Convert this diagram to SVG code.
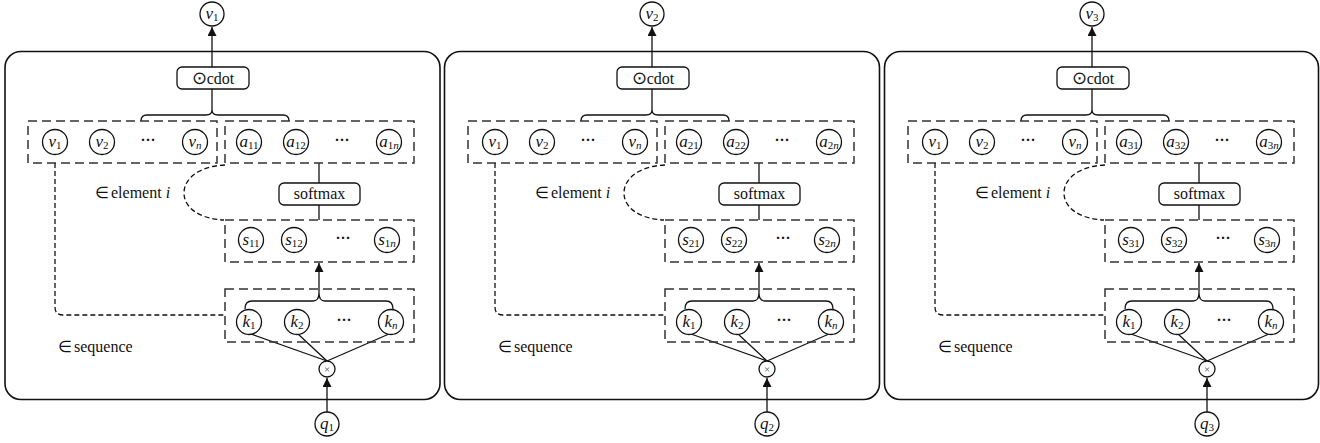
<svg xmlns="http://www.w3.org/2000/svg" width="1320" height="443" viewBox="0 0 1320 443">
  <style>
    .panel { fill: none; stroke: #111; stroke-width: 1.6; }
    .node { fill: #fff; stroke: #111; stroke-width: 1.3; }
    .box { fill: #fff; stroke: #111; stroke-width: 1.3; }
    .group { fill: none; stroke: #333; stroke-width: 1.5; stroke-dasharray: 9 5; }
    .wire { fill: none; stroke: #111; stroke-width: 1.3; }
    .dash { fill: none; stroke: #111; stroke-width: 1.3; stroke-dasharray: 5 3; }
    .arrow { fill: none; stroke: #111; stroke-width: 1.3; marker-end: url(#tip); }
    text { font-family: "Liberation Serif", "Times New Roman", serif; fill: #111; }
    .lbl { font-size: 16px; text-anchor: middle; }
    .odot { font-size: 18px; }
    .var { font-size: 17px; text-anchor: middle; }
    .it { font-style: italic; }
    .sub { font-size: 11px; }
    .dots { font-size: 15px; text-anchor: middle; font-weight: bold; }
    .note { font-size: 16px; }
    .times { font-size: 11px; text-anchor: middle; fill: #555; }
  </style>
  <defs>
    <marker id="tip" markerUnits="userSpaceOnUse" markerWidth="10" markerHeight="9" refX="9" refY="4.5" orient="auto">
      <path d="M0,0 L9,4.5 L0,9 z" fill="#111"/>
    </marker>
  </defs>

  <!-- ===================== block 1 ===================== -->
  <g id="block1">
    <rect id="b1-frame" class="panel" x="5" y="51.5" width="435" height="348" rx="16"/>
    <g id="b1-connectors">
      <line class="arrow" x1="212" y1="67" x2="212" y2="27"/>
      <line class="wire" x1="212" y1="89" x2="212" y2="110"/>
      <path class="wire" d="M141,121 Q141,115 147,115 H206 Q212,115 212,110 Q212,115 218,115 H283 Q289,115 289,121"/>
      <line class="wire" x1="319" y1="163" x2="319" y2="183"/>
      <line class="wire" x1="319" y1="205" x2="319" y2="220"/>
      <line class="arrow" x1="319" y1="293" x2="319" y2="263"/>
      <path class="wire" d="M245,309 Q245,301 252,301 H313 Q319,301 319,293 Q319,301 325,301 H386 Q393,301 393,309"/>
      <line class="wire" x1="251" y1="334" x2="327" y2="361"/>
      <line class="wire" x1="298" y1="334" x2="327" y2="361"/>
      <line class="wire" x1="389" y1="334" x2="327" y2="361"/>
      <line class="arrow" x1="327" y1="412" x2="327" y2="378"/>
      <path class="dash" d="M55,163 V307 Q55,315 63,315 H225"/>
      <path class="dash" d="M225,165 C200,166 184,178 184,193 C184,208 200,219 224,220"/>
    </g>
    <g id="b1-out"><circle class="node" cx="212" cy="14" r="12"/><text class="var" x="212" y="19"><tspan class="it">v</tspan><tspan class="sub" dy="2">1</tspan></text></g>
    <g id="b1-cdot"><rect class="box" x="177" y="67" width="72" height="22" rx="5"/><text class="lbl" x="213" y="84"><tspan class="odot">⊙</tspan>cdot</text></g>
    <g id="b1-vgroup"><rect class="group" x="28" y="121" width="189" height="42"/></g>
    <g id="b1-agroup"><rect class="group" x="225" y="121" width="189" height="42"/></g>
    <g id="b1-v1"><circle class="node" cx="55" cy="142" r="12.5"/><text class="var" x="55" y="147"><tspan class="it">v</tspan><tspan class="sub" dy="2">1</tspan></text></g>
    <g id="b1-v2"><circle class="node" cx="102" cy="142" r="12.5"/><text class="var" x="102" y="147"><tspan class="it">v</tspan><tspan class="sub" dy="2">2</tspan></text></g>
    <g id="b1-vdots"><text class="dots" x="148" y="145">···</text></g>
    <g id="b1-vn"><circle class="node" cx="195" cy="142" r="12.5"/><text class="var" x="195" y="147"><tspan class="it">v</tspan><tspan class="sub it" dy="2">n</tspan></text></g>
    <g id="b1-a1"><circle class="node" cx="249" cy="142" r="12.5"/><text class="var" x="249" y="147"><tspan class="it">a</tspan><tspan class="sub" dy="2">11</tspan></text></g>
    <g id="b1-a2"><circle class="node" cx="296" cy="142" r="12.5"/><text class="var" x="296" y="147"><tspan class="it">a</tspan><tspan class="sub" dy="2">12</tspan></text></g>
    <g id="b1-adots"><text class="dots" x="342" y="145">···</text></g>
    <g id="b1-an"><circle class="node" cx="389" cy="142" r="12.5"/><text class="var" x="389" y="147"><tspan class="it">a</tspan><tspan class="sub" dy="2">1<tspan class="it">n</tspan></tspan></text></g>
    <g id="b1-softmax"><rect class="box" x="279" y="183" width="81" height="22" rx="5"/><text class="lbl" x="319.5" y="199">softmax</text></g>
    <g id="b1-sgroup"><rect class="group" x="225" y="220" width="189" height="42"/></g>
    <g id="b1-s1"><circle class="node" cx="251" cy="240" r="12.5"/><text class="var" x="251" y="245"><tspan class="it">s</tspan><tspan class="sub" dy="2">11</tspan></text></g>
    <g id="b1-s2"><circle class="node" cx="294" cy="240" r="12.5"/><text class="var" x="294" y="245"><tspan class="it">s</tspan><tspan class="sub" dy="2">12</tspan></text></g>
    <g id="b1-sdots"><text class="dots" x="343" y="243">···</text></g>
    <g id="b1-sn"><circle class="node" cx="387" cy="240" r="12.5"/><text class="var" x="387" y="245"><tspan class="it">s</tspan><tspan class="sub" dy="2">1<tspan class="it">n</tspan></tspan></text></g>
    <g id="b1-kgroup"><rect class="group" x="225" y="289" width="189" height="53"/></g>
    <g id="b1-k1"><circle class="node" cx="249" cy="322" r="12.5"/><text class="var" x="249" y="327"><tspan class="it">k</tspan><tspan class="sub" dy="2">1</tspan></text></g>
    <g id="b1-k2"><circle class="node" cx="297" cy="322" r="12.5"/><text class="var" x="297" y="327"><tspan class="it">k</tspan><tspan class="sub" dy="2">2</tspan></text></g>
    <g id="b1-kdots"><text class="dots" x="344" y="325">···</text></g>
    <g id="b1-kn"><circle class="node" cx="391" cy="322" r="12.5"/><text class="var" x="391" y="327"><tspan class="it">k</tspan><tspan class="sub it" dy="2">n</tspan></text></g>
    <g id="b1-mul"><circle class="node" cx="327" cy="369" r="8"/><text class="times" x="327" y="373">×</text></g>
    <g id="b1-q"><circle class="node" cx="327" cy="424" r="12"/><text class="var" x="327" y="429"><tspan class="it">q</tspan><tspan class="sub" dy="2">1</tspan></text></g>
    <g id="b1-element"><text class="note" x="95" y="198">∈<tspan dx="2">element </tspan><tspan class="it">i</tspan></text></g>
    <g id="b1-sequence"><text class="note" x="58" y="352">∈<tspan dx="2">sequence</tspan></text></g>
  </g>

  <!-- ===================== block 2 ===================== -->
  <g id="block2" transform="translate(440,0)">
    <rect id="b2-frame" class="panel" x="4.5" y="51.5" width="435" height="348" rx="16"/>
    <g id="b2-connectors">
      <line class="arrow" x1="212" y1="67" x2="212" y2="27"/>
      <line class="wire" x1="212" y1="89" x2="212" y2="110"/>
      <path class="wire" d="M141,121 Q141,115 147,115 H206 Q212,115 212,110 Q212,115 218,115 H283 Q289,115 289,121"/>
      <line class="wire" x1="319" y1="163" x2="319" y2="183"/>
      <line class="wire" x1="319" y1="205" x2="319" y2="220"/>
      <line class="arrow" x1="319" y1="293" x2="319" y2="263"/>
      <path class="wire" d="M245,309 Q245,301 252,301 H313 Q319,301 319,293 Q319,301 325,301 H386 Q393,301 393,309"/>
      <line class="wire" x1="251" y1="334" x2="327" y2="361"/>
      <line class="wire" x1="298" y1="334" x2="327" y2="361"/>
      <line class="wire" x1="389" y1="334" x2="327" y2="361"/>
      <line class="arrow" x1="327" y1="412" x2="327" y2="378"/>
      <path class="dash" d="M55,163 V307 Q55,315 63,315 H225"/>
      <path class="dash" d="M225,165 C200,166 184,178 184,193 C184,208 200,219 224,220"/>
    </g>
    <g id="b2-out"><circle class="node" cx="212" cy="14" r="12"/><text class="var" x="212" y="19"><tspan class="it">v</tspan><tspan class="sub" dy="2">2</tspan></text></g>
    <g id="b2-cdot"><rect class="box" x="177" y="67" width="72" height="22" rx="5"/><text class="lbl" x="213" y="84"><tspan class="odot">⊙</tspan>cdot</text></g>
    <g id="b2-vgroup"><rect class="group" x="28" y="121" width="189" height="42"/></g>
    <g id="b2-agroup"><rect class="group" x="225" y="121" width="189" height="42"/></g>
    <g id="b2-v1"><circle class="node" cx="55" cy="142" r="12.5"/><text class="var" x="55" y="147"><tspan class="it">v</tspan><tspan class="sub" dy="2">1</tspan></text></g>
    <g id="b2-v2"><circle class="node" cx="102" cy="142" r="12.5"/><text class="var" x="102" y="147"><tspan class="it">v</tspan><tspan class="sub" dy="2">2</tspan></text></g>
    <g id="b2-vdots"><text class="dots" x="148" y="145">···</text></g>
    <g id="b2-vn"><circle class="node" cx="195" cy="142" r="12.5"/><text class="var" x="195" y="147"><tspan class="it">v</tspan><tspan class="sub it" dy="2">n</tspan></text></g>
    <g id="b2-a1"><circle class="node" cx="249" cy="142" r="12.5"/><text class="var" x="249" y="147"><tspan class="it">a</tspan><tspan class="sub" dy="2">21</tspan></text></g>
    <g id="b2-a2"><circle class="node" cx="296" cy="142" r="12.5"/><text class="var" x="296" y="147"><tspan class="it">a</tspan><tspan class="sub" dy="2">22</tspan></text></g>
    <g id="b2-adots"><text class="dots" x="342" y="145">···</text></g>
    <g id="b2-an"><circle class="node" cx="389" cy="142" r="12.5"/><text class="var" x="389" y="147"><tspan class="it">a</tspan><tspan class="sub" dy="2">2<tspan class="it">n</tspan></tspan></text></g>
    <g id="b2-softmax"><rect class="box" x="279" y="183" width="81" height="22" rx="5"/><text class="lbl" x="319.5" y="199">softmax</text></g>
    <g id="b2-sgroup"><rect class="group" x="225" y="220" width="189" height="42"/></g>
    <g id="b2-s1"><circle class="node" cx="251" cy="240" r="12.5"/><text class="var" x="251" y="245"><tspan class="it">s</tspan><tspan class="sub" dy="2">21</tspan></text></g>
    <g id="b2-s2"><circle class="node" cx="294" cy="240" r="12.5"/><text class="var" x="294" y="245"><tspan class="it">s</tspan><tspan class="sub" dy="2">22</tspan></text></g>
    <g id="b2-sdots"><text class="dots" x="343" y="243">···</text></g>
    <g id="b2-sn"><circle class="node" cx="387" cy="240" r="12.5"/><text class="var" x="387" y="245"><tspan class="it">s</tspan><tspan class="sub" dy="2">2<tspan class="it">n</tspan></tspan></text></g>
    <g id="b2-kgroup"><rect class="group" x="225" y="289" width="189" height="53"/></g>
    <g id="b2-k1"><circle class="node" cx="249" cy="322" r="12.5"/><text class="var" x="249" y="327"><tspan class="it">k</tspan><tspan class="sub" dy="2">1</tspan></text></g>
    <g id="b2-k2"><circle class="node" cx="297" cy="322" r="12.5"/><text class="var" x="297" y="327"><tspan class="it">k</tspan><tspan class="sub" dy="2">2</tspan></text></g>
    <g id="b2-kdots"><text class="dots" x="344" y="325">···</text></g>
    <g id="b2-kn"><circle class="node" cx="391" cy="322" r="12.5"/><text class="var" x="391" y="327"><tspan class="it">k</tspan><tspan class="sub it" dy="2">n</tspan></text></g>
    <g id="b2-mul"><circle class="node" cx="327" cy="369" r="8"/><text class="times" x="327" y="373">×</text></g>
    <g id="b2-q"><circle class="node" cx="327" cy="424" r="12"/><text class="var" x="327" y="429"><tspan class="it">q</tspan><tspan class="sub" dy="2">2</tspan></text></g>
    <g id="b2-element"><text class="note" x="95" y="198">∈<tspan dx="2">element </tspan><tspan class="it">i</tspan></text></g>
    <g id="b2-sequence"><text class="note" x="58" y="352">∈<tspan dx="2">sequence</tspan></text></g>
  </g>

  <!-- ===================== block 3 ===================== -->
  <g id="block3" transform="translate(880,0)">
    <rect id="b3-frame" class="panel" x="4.5" y="51.5" width="434" height="348" rx="16"/>
    <g id="b3-connectors">
      <line class="arrow" x1="212" y1="67" x2="212" y2="27"/>
      <line class="wire" x1="212" y1="89" x2="212" y2="110"/>
      <path class="wire" d="M141,121 Q141,115 147,115 H206 Q212,115 212,110 Q212,115 218,115 H283 Q289,115 289,121"/>
      <line class="wire" x1="319" y1="163" x2="319" y2="183"/>
      <line class="wire" x1="319" y1="205" x2="319" y2="220"/>
      <line class="arrow" x1="319" y1="293" x2="319" y2="263"/>
      <path class="wire" d="M245,309 Q245,301 252,301 H313 Q319,301 319,293 Q319,301 325,301 H386 Q393,301 393,309"/>
      <line class="wire" x1="251" y1="334" x2="327" y2="361"/>
      <line class="wire" x1="298" y1="334" x2="327" y2="361"/>
      <line class="wire" x1="389" y1="334" x2="327" y2="361"/>
      <line class="arrow" x1="327" y1="412" x2="327" y2="378"/>
      <path class="dash" d="M55,163 V307 Q55,315 63,315 H225"/>
      <path class="dash" d="M225,165 C200,166 184,178 184,193 C184,208 200,219 224,220"/>
    </g>
    <g id="b3-out"><circle class="node" cx="212" cy="14" r="12"/><text class="var" x="212" y="19"><tspan class="it">v</tspan><tspan class="sub" dy="2">3</tspan></text></g>
    <g id="b3-cdot"><rect class="box" x="177" y="67" width="72" height="22" rx="5"/><text class="lbl" x="213" y="84"><tspan class="odot">⊙</tspan>cdot</text></g>
    <g id="b3-vgroup"><rect class="group" x="28" y="121" width="189" height="42"/></g>
    <g id="b3-agroup"><rect class="group" x="225" y="121" width="189" height="42"/></g>
    <g id="b3-v1"><circle class="node" cx="55" cy="142" r="12.5"/><text class="var" x="55" y="147"><tspan class="it">v</tspan><tspan class="sub" dy="2">1</tspan></text></g>
    <g id="b3-v2"><circle class="node" cx="102" cy="142" r="12.5"/><text class="var" x="102" y="147"><tspan class="it">v</tspan><tspan class="sub" dy="2">2</tspan></text></g>
    <g id="b3-vdots"><text class="dots" x="148" y="145">···</text></g>
    <g id="b3-vn"><circle class="node" cx="195" cy="142" r="12.5"/><text class="var" x="195" y="147"><tspan class="it">v</tspan><tspan class="sub it" dy="2">n</tspan></text></g>
    <g id="b3-a1"><circle class="node" cx="249" cy="142" r="12.5"/><text class="var" x="249" y="147"><tspan class="it">a</tspan><tspan class="sub" dy="2">31</tspan></text></g>
    <g id="b3-a2"><circle class="node" cx="296" cy="142" r="12.5"/><text class="var" x="296" y="147"><tspan class="it">a</tspan><tspan class="sub" dy="2">32</tspan></text></g>
    <g id="b3-adots"><text class="dots" x="342" y="145">···</text></g>
    <g id="b3-an"><circle class="node" cx="389" cy="142" r="12.5"/><text class="var" x="389" y="147"><tspan class="it">a</tspan><tspan class="sub" dy="2">3<tspan class="it">n</tspan></tspan></text></g>
    <g id="b3-softmax"><rect class="box" x="279" y="183" width="81" height="22" rx="5"/><text class="lbl" x="319.5" y="199">softmax</text></g>
    <g id="b3-sgroup"><rect class="group" x="225" y="220" width="189" height="42"/></g>
    <g id="b3-s1"><circle class="node" cx="251" cy="240" r="12.5"/><text class="var" x="251" y="245"><tspan class="it">s</tspan><tspan class="sub" dy="2">31</tspan></text></g>
    <g id="b3-s2"><circle class="node" cx="294" cy="240" r="12.5"/><text class="var" x="294" y="245"><tspan class="it">s</tspan><tspan class="sub" dy="2">32</tspan></text></g>
    <g id="b3-sdots"><text class="dots" x="343" y="243">···</text></g>
    <g id="b3-sn"><circle class="node" cx="387" cy="240" r="12.5"/><text class="var" x="387" y="245"><tspan class="it">s</tspan><tspan class="sub" dy="2">3<tspan class="it">n</tspan></tspan></text></g>
    <g id="b3-kgroup"><rect class="group" x="225" y="289" width="189" height="53"/></g>
    <g id="b3-k1"><circle class="node" cx="249" cy="322" r="12.5"/><text class="var" x="249" y="327"><tspan class="it">k</tspan><tspan class="sub" dy="2">1</tspan></text></g>
    <g id="b3-k2"><circle class="node" cx="297" cy="322" r="12.5"/><text class="var" x="297" y="327"><tspan class="it">k</tspan><tspan class="sub" dy="2">2</tspan></text></g>
    <g id="b3-kdots"><text class="dots" x="344" y="325">···</text></g>
    <g id="b3-kn"><circle class="node" cx="391" cy="322" r="12.5"/><text class="var" x="391" y="327"><tspan class="it">k</tspan><tspan class="sub it" dy="2">n</tspan></text></g>
    <g id="b3-mul"><circle class="node" cx="327" cy="369" r="8"/><text class="times" x="327" y="373">×</text></g>
    <g id="b3-q"><circle class="node" cx="327" cy="424" r="12"/><text class="var" x="327" y="429"><tspan class="it">q</tspan><tspan class="sub" dy="2">3</tspan></text></g>
    <g id="b3-element"><text class="note" x="95" y="198">∈<tspan dx="2">element </tspan><tspan class="it">i</tspan></text></g>
    <g id="b3-sequence"><text class="note" x="58" y="352">∈<tspan dx="2">sequence</tspan></text></g>
  </g>
</svg>
